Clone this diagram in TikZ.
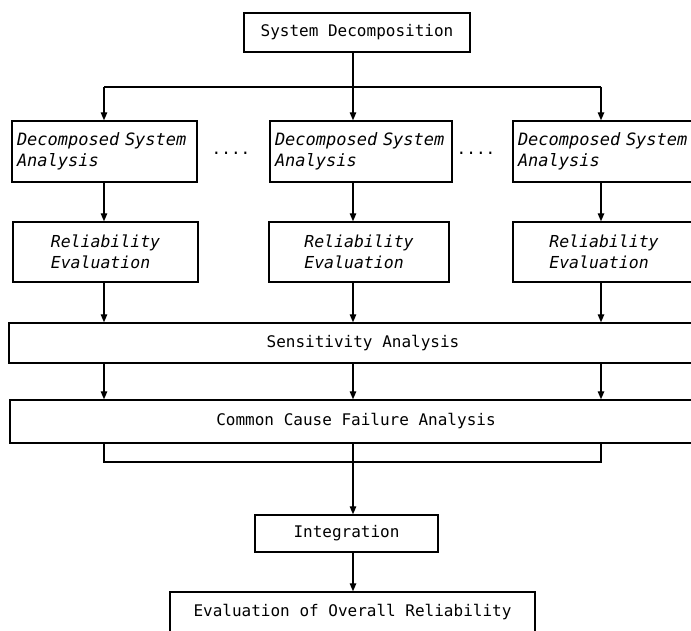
\documentclass[tikz,border=0pt]{standalone}
\usepackage{fontspec}
\setmonofont{DejaVu Sans Mono}
\usepackage{tikz}
\usetikzlibrary{arrows.meta}
\tikzset{every edge/.style={draw, line width=1.3pt}}
\tikzset{blk/.style={draw, line width=1.4pt, inner sep=0pt, font=\ttfamily\fontsize{16}{21}\selectfont}}
\tikzset{dsabox/.style={blk, align=left, inner xsep=5pt, minimum height=61pt, font=\ttfamily\itshape\fontsize{17}{21}\selectfont}}
\tikzset{relbox/.style={blk, align=left, minimum height=60pt, font=\ttfamily\itshape\fontsize{16.5}{21}\selectfont}}

\begin{document}
\begin{tikzpicture}[x=1pt, y=-1pt, >={Triangle[length=8pt,width=6.5pt]}]
    \useasboundingbox (0,0) rectangle (691,631);
    \coordinate (colA) at (104,0);
    \coordinate (colB) at (353,0);
    \coordinate (colC) at (601,0);
    \coordinate (split) at (353,87);
    \coordinate (merge) at (353,462);

    \node[blk, minimum width=226pt, minimum height=39pt] at (357,32.5) (SD) {System Decomposition};

    \node[dsabox, text width=175pt] at (104.5,151.5) (DSA1) {Decomposed System\\Analysis};
    \node[dsabox, text width=172pt] at (361,151.5) (DSA2) {Decomposed System\\Analysis};
    \node[dsabox, text width=172pt] at (604,151.5) (DSA3) {Decomposed System\\Analysis};
    \node[blk, draw=none] at (231,153) (dotsL) {....};
    \node[blk, draw=none] at (476,153) (dotsR) {....};

    \node[relbox, minimum width=185pt] at (105.5,252) (RE1) {Reliability\\Evaluation};
    \node[relbox, minimum width=180pt] at (359,252) (RE2) {Reliability\\Evaluation};
    \node[relbox, minimum width=182pt] at (604,252) (RE3) {Reliability\\Evaluation};

    \node[blk, minimum width=708pt, minimum height=40pt] at (363,343) (SA) {Sensitivity Analysis};
    \node[blk, minimum width=692pt, minimum height=43pt] at (356,421.5) (CCF) {Common Cause Failure Analysis};
    \node[blk, minimum width=183pt, minimum height=37pt] at (346.5,533.5) (INT) {Integration};
    \node[blk, minimum width=365pt, minimum height=41pt] at (352.5,612.5) (EOR) {Evaluation of Overall Reliability};

    % split to the decomposed systems
    \draw[line width=1.3pt] (SD.south -| split) -- (split);
    \draw[line width=1.3pt] (split -| colA) -- (split -| colC);
    \draw (split -| colA) edge[->] (DSA1.north -| colA);
    \draw (split -| colB) edge[->] (DSA2.north -| colB);
    \draw (split -| colC) edge[->] (DSA3.north -| colC);

    \draw (DSA1.south -| colA) edge[->] (RE1.north -| colA);
    \draw (DSA2.south -| colB) edge[->] (RE2.north -| colB);
    \draw (DSA3.south -| colC) edge[->] (RE3.north -| colC);

    \draw (RE1.south -| colA) edge[->] (SA.north -| colA);
    \draw (RE2.south -| colB) edge[->] (SA.north -| colB);
    \draw (RE3.south -| colC) edge[->] (SA.north -| colC);

    \draw (SA.south -| colA) edge[->] (CCF.north -| colA);
    \draw (SA.south -| colB) edge[->] (CCF.north -| colB);
    \draw (SA.south -| colC) edge[->] (CCF.north -| colC);

    % merge to integration
    \draw[line width=1.3pt] (CCF.south -| colA) |- (merge -| colC) -- (CCF.south -| colC);
    \draw (CCF.south -| colB) edge[->] (INT.north -| colB);
    \draw (INT.south -| colB) edge[->] (EOR.north -| colB);
\end{tikzpicture}
\end{document}
